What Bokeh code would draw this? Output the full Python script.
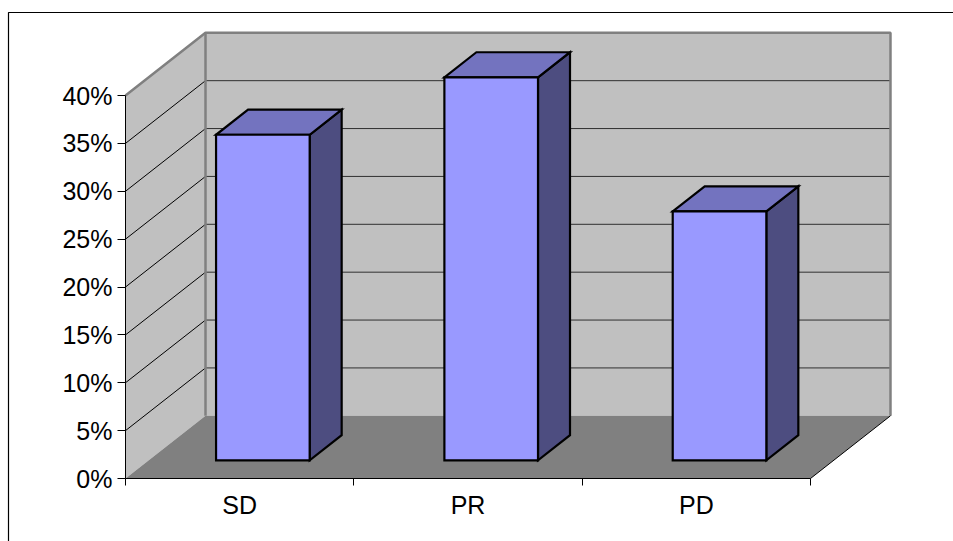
from bokeh.plotting import figure
from bokeh.models import Range1d, FixedTicker, LinearAxis
from bokeh.embed import file_html
from bokeh.resources import INLINE

# ---- data ----
categories = ["SD", "PR", "PD"]
values = [34, 40, 26]                      # percent
y_ticks = [0, 5, 10, 15, 20, 25, 30, 35, 40]
y_tick_labels = ["0%", "5%", "10%", "15%", "20%", "25%", "30%", "35%", "40%"]

# ---- geometry / style ----
W, H = 953, 541
ORIGIN_X, ORIGIN_Y = 125, 478      # pixel position of the front axes origin
PX_X = 228.33          # pixels per category unit
PX_Y = 9.575           # pixels per percent
DX = 80 / PX_X         # depth offset (x units)
DY = 62.7 / PX_Y       # depth offset (y units)
N = len(categories)
Y_TOP = y_ticks[-1]
BAR_W = 0.41
F_FRONT, F_BACK = 0.29, 0.69
BORDER_X, BORDER_Y = 8, 12         # chart-area border (pixels)

FONT = "Liberation Sans"
FRONT_C, TOP_C, SIDE_C = "#9999FF", "#7373BF", "#4D4D80"
WALL_C, FLOOR_C, EDGE_C = "#C0C0C0", "#808080", "#808080"

x_range = Range1d(-ORIGIN_X / PX_X, (W - ORIGIN_X) / PX_X)
y_range = Range1d(-(H - ORIGIN_Y) / PX_Y, ORIGIN_Y / PX_Y)

p = figure(width=W, height=H, x_range=x_range, y_range=y_range,
           min_border=0, min_border_left=0, min_border_right=0,
           min_border_top=0, min_border_bottom=0,
           output_backend="svg", toolbar_location=None,
           x_axis_type=None, y_axis_type=None)
p.outline_line_color = None
p.background_fill_color = "white"
p.border_fill_color = "white"

# chart-area border (extends past the right and bottom edges)
bx = (BORDER_X - ORIGIN_X) / PX_X
by = (ORIGIN_Y - BORDER_Y) / PX_Y
p.line([bx, bx, x_range.end + 1], [y_range.start - 1, by, by], line_color="black", line_width=1.2)

# back wall
p.quad(left=[DX], right=[N + DX], bottom=[DY], top=[Y_TOP + DY],
       fill_color=WALL_C, line_color=None)
# side wall
p.patch([0, 0, DX, DX], [0, Y_TOP, Y_TOP + DY, DY], fill_color=WALL_C, line_color=None)
# floor
p.patch([0, DX, N + DX, N], [0, DY, DY, 0], fill_color=FLOOR_C, line_color=None)

# gridlines
grid = y_ticks[1:-1]
p.segment(x0=[0] * len(grid), y0=grid, x1=[DX] * len(grid), y1=[g + DY for g in grid],
          line_color="black", line_width=1)
p.segment(x0=[DX] * len(grid), y0=[g + DY for g in grid], x1=[N + DX] * len(grid),
          y1=[g + DY for g in grid], line_color="#303030", line_width=1)

# wall edges
p.line([0, DX, N + DX, N + DX], [Y_TOP, Y_TOP + DY, Y_TOP + DY, DY],
       line_color=EDGE_C, line_width=2.5)
p.line([DX, DX], [DY, Y_TOP + DY], line_color=EDGE_C, line_width=2.5)
# floor right edge
p.line([N, N + DX], [0, DY], line_color="black", line_width=1)

# bars
ddx = (F_BACK - F_FRONT) * DX
ddy = (F_BACK - F_FRONT) * DY
x0s, x1s, y0s, y1s = [], [], [], []
top_xs, top_ys, side_xs, side_ys = [], [], [], []
for i, v in enumerate(values):
    cx = i + 0.5
    x0 = cx - BAR_W / 2 + F_FRONT * DX
    x1 = cx + BAR_W / 2 + F_FRONT * DX
    y0 = F_FRONT * DY
    y1 = v + F_FRONT * DY
    x0s.append(x0); x1s.append(x1); y0s.append(y0); y1s.append(y1)
    top_xs.append([x0, x1, x1 + ddx, x0 + ddx])
    top_ys.append([y1, y1, y1 + ddy, y1 + ddy])
    side_xs.append([x1, x1, x1 + ddx, x1 + ddx])
    side_ys.append([y0, y1, y1 + ddy, y0 + ddy])

p.patches(side_xs, side_ys, fill_color=SIDE_C, line_color="black", line_width=2.2, line_join="miter")
p.patches(top_xs, top_ys, fill_color=TOP_C, line_color="black", line_width=2.2, line_join="miter")
p.quad(left=x0s, right=x1s, bottom=y0s, top=y1s, fill_color=FRONT_C,
       line_color="black", line_width=2.2, line_join="miter")

# axes (drawn at the data origin)
yax = LinearAxis(ticker=FixedTicker(ticks=y_ticks), bounds=(0, Y_TOP), fixed_location=0)
yax.major_label_overrides = {t: l for t, l in zip(y_ticks, y_tick_labels)}
yax.major_tick_out = 8
yax.major_tick_in = 0
yax.minor_tick_line_color = None
yax.major_label_standoff = 5
yax.major_label_text_font = FONT
yax.major_label_text_font_size = "25px"
yax.major_label_text_color = "black"
yax.axis_line_color = "black"
yax.major_tick_line_color = "black"
p.add_layout(yax, "left")

centers = [i + 0.5 for i in range(N)]
xax = LinearAxis(ticker=FixedTicker(ticks=centers, minor_ticks=list(range(N + 1))),
                 bounds=(0, N), fixed_location=0)
xax.major_label_overrides = {c: l for c, l in zip(centers, categories)}
xax.major_tick_out = 0
xax.major_tick_in = 0
xax.minor_tick_out = 7
xax.minor_tick_in = 0
xax.minor_tick_line_color = "black"
xax.major_label_standoff = 5
xax.major_label_text_font = FONT
xax.major_label_text_font_size = "25px"
xax.major_label_text_color = "black"
xax.axis_line_color = "black"
p.add_layout(xax, "below")

open("out.html", "w").write(file_html(p, INLINE))
